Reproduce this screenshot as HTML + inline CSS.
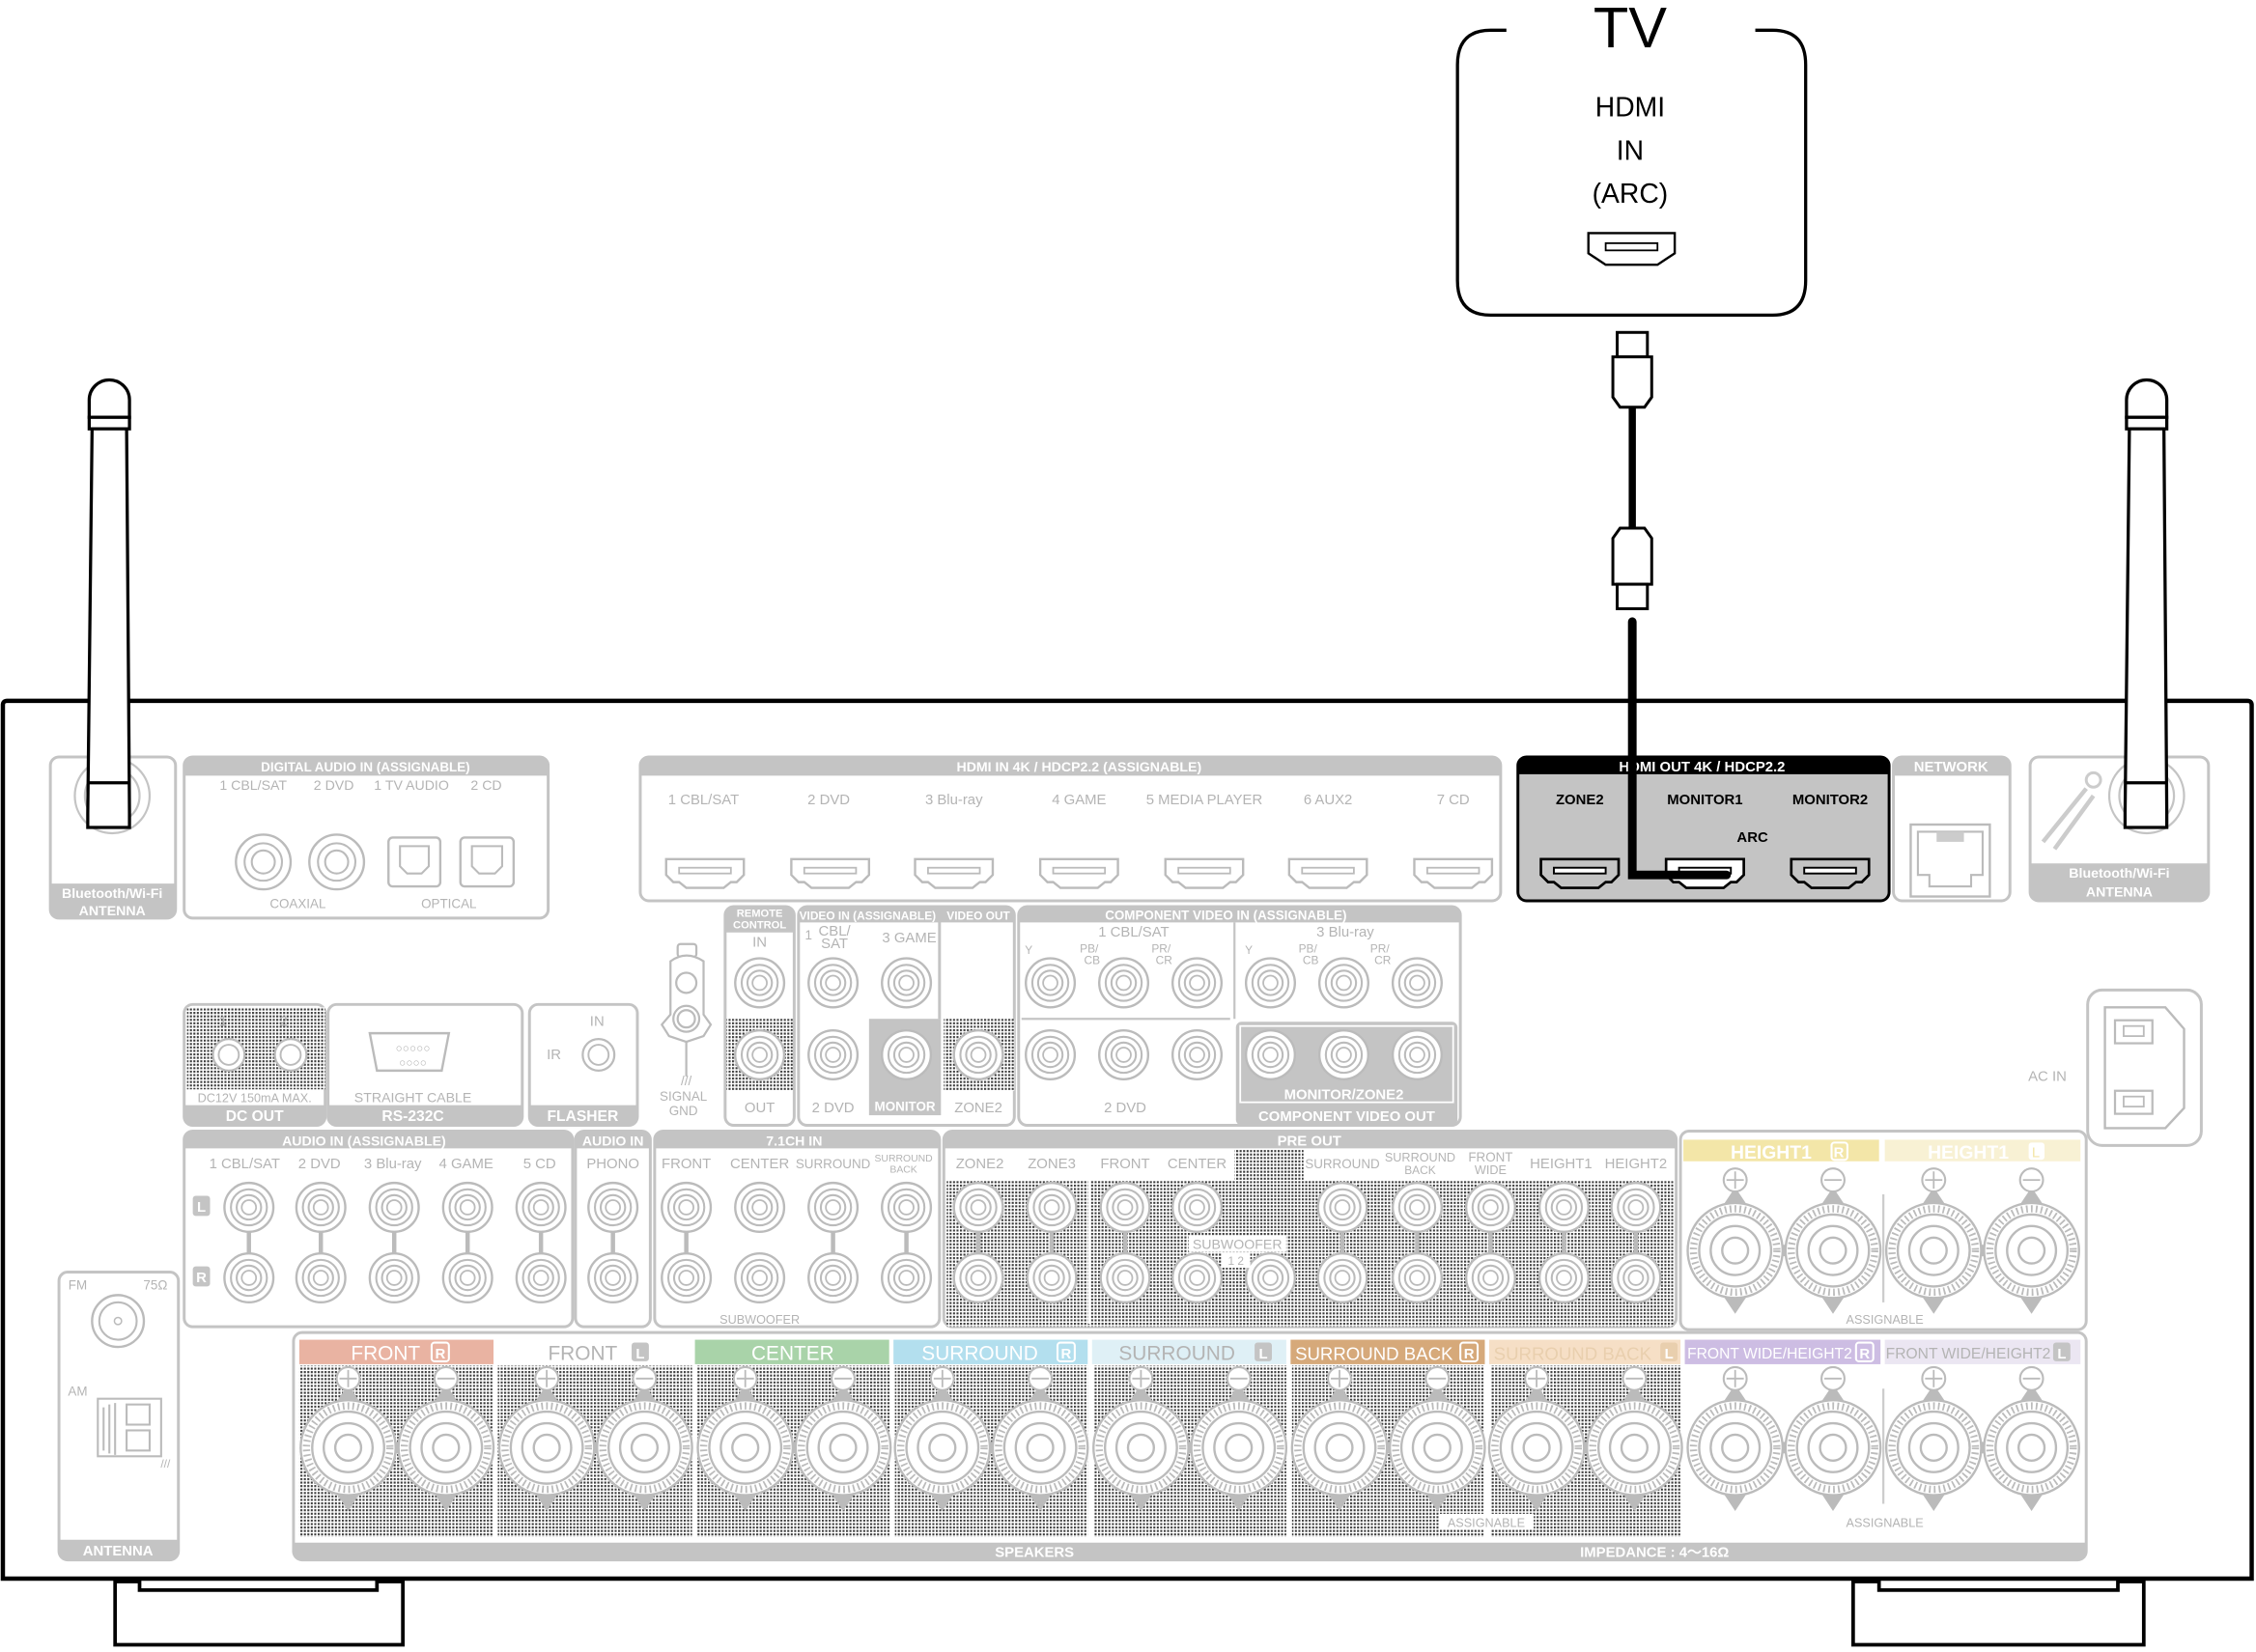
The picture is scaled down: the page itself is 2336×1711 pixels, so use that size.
<!DOCTYPE html>
<html><head><meta charset="utf-8"><style>
html,body{margin:0;padding:0;background:#fff;}
svg{display:block;}
text{font-family:"Liberation Sans",sans-serif;}
.g{fill:#b4b4b4;font-size:10px;text-anchor:middle;}
.h{fill:#fff;font-size:10px;text-anchor:middle;font-weight:bold;}
.b{fill:#000;font-size:10px;text-anchor:middle;font-weight:bold;}
.bx{fill:#fff;stroke:#c4c4c4;stroke-width:2;}
.hd{fill:#c4c4c4;}
</style></head><body>
<svg width="2336" height="1711" viewBox="0 0 1568 1148" preserveAspectRatio="none" xmlns="http://www.w3.org/2000/svg">
<defs>
<pattern id="pt" width="2.4" height="2.4" patternUnits="userSpaceOnUse">
<rect width="2.4" height="2.4" fill="#fff"/><rect width="1.4" height="1.4" fill="#3a3a3a"/>
</pattern>
<g id="rca"><circle r="17" fill="#fff" stroke="#bbb" stroke-width="1.6"/><circle r="12.5" fill="none" stroke="#bbb" stroke-width="1.4"/><circle r="8.5" fill="none" stroke="#bbb" stroke-width="1.4"/><circle r="5" fill="none" stroke="#bbb" stroke-width="1.2"/></g>
<g id="spk">
<path d="M-8,-32 L0,-44 L8,-32 Z M-8,32 L0,44 L8,32 Z" fill="#bbb"/>
<circle r="33" fill="#fff" stroke="#bbb" stroke-width="1.6"/>
<circle r="29" fill="none" stroke="#bbb" stroke-width="5" stroke-dasharray="1.2 2.2"/>
<circle r="25" fill="#fff" stroke="#bbb" stroke-width="1.6"/>
<circle r="17" fill="none" stroke="#bbb" stroke-width="1.6"/>
<circle r="9" fill="none" stroke="#bbb" stroke-width="1.6"/>
</g>
<g id="pp"><circle r="8" fill="#fff" stroke="#bbb" stroke-width="1.4"/><path d="M-6,0 h12 M0,-6 v12" stroke="#bbb" stroke-width="1.2"/></g>
<g id="pn"><circle r="8" fill="#fff" stroke="#bbb" stroke-width="1.4"/><path d="M-6,0 h12" stroke="#bbb" stroke-width="1.2"/></g>
<path id="hdmi" d="M-27,-9 h54 v11 l-5,5 h-4 l-5,4 h-26 l-5,-4 h-4 l-5,-5 Z"/>
</defs>

<!-- TV -->
<path d="M1047,21 H1036 Q1013,21 1013,45 V195 Q1013,219 1036,219 H1232 Q1255,219 1255,195 V45 Q1255,21 1232,21 H1220" fill="none" stroke="#000" stroke-width="2.2"/>
<text x="1133" y="33" style="font-size:40px;text-anchor:middle">TV</text>
<text x="1133" y="81" style="font-size:19px;text-anchor:middle">HDMI</text>
<text x="1133" y="111" style="font-size:19px;text-anchor:middle">IN</text>
<text x="1133" y="141" style="font-size:19px;text-anchor:middle">(ARC)</text>
<path d="M1104,162 h60 v14 l-6,4 l-6,4 h-36 l-6,-4 l-6,-4 Z" fill="#fff" stroke="#000" stroke-width="1.6"/>
<rect x="1116" y="169" width="36" height="5" fill="none" stroke="#000" stroke-width="1.2"/>

<!-- cable -->
<rect x="1124" y="231" width="21" height="17" fill="#fff" stroke="#000" stroke-width="2"/>
<path d="M1121,248 h27 v28 l-5,7 h-17 l-5,-7 Z" fill="#fff" stroke="#000" stroke-width="2"/>
<line x1="1134.5" y1="283" x2="1134.5" y2="367" stroke="#000" stroke-width="5"/>
<path d="M1126,367 h17 l5,7 v32 h-27 v-32 Z" fill="#fff" stroke="#000" stroke-width="2"/>
<rect x="1124" y="406" width="21" height="17" fill="#fff" stroke="#000" stroke-width="2"/>

<!-- chassis -->
<path d="M2,1097 V490 Q2,487 5,487 H1562 Q1565,487 1565,490 V1097 Z" fill="#fff" stroke="#000" stroke-width="3"/>
<path d="M80,1099 V1143 H280 V1099 H262 V1105 H97 V1099 Z" fill="#fff" stroke="#000" stroke-width="2.5"/>
<path d="M1288,1099 V1143 H1490 V1099 H1472 V1105 H1306 V1099 Z" fill="#fff" stroke="#000" stroke-width="2.5"/>

<!-- left bluetooth -->
<rect class="bx" x="35" y="526" width="87" height="112" rx="6"/>
<path class="hd" d="M35,614 H122 V632 Q122,638 116,638 H41 Q35,638 35,632 Z"/>
<circle cx="78" cy="553" r="26" fill="none" stroke="#c4c4c4" stroke-width="1.5"/>
<circle cx="78" cy="553" r="19" fill="none" stroke="#c4c4c4" stroke-width="1.5"/>
<text class="h" x="78" y="624" style="font-size:9.5px">Bluetooth/Wi-Fi</text>
<text class="h" x="78" y="636" style="font-size:9.5px">ANTENNA</text>

<!-- digital audio -->
<rect class="bx" x="128" y="526" width="253" height="112" rx="6"/>
<path class="hd" d="M128,539 V532 Q128,526 134,526 H375 Q381,526 381,532 V539 Z"/>
<text class="h" x="254" y="536" style="font-size:9px">DIGITAL AUDIO IN (ASSIGNABLE)</text>
<g class="g" style="font-size:9.5px"><text x="176" y="549">1 CBL/SAT</text><text x="232" y="549">2 DVD</text><text x="286" y="549">1 TV AUDIO</text><text x="338" y="549">2 CD</text></g>
<circle cx="183" cy="599" r="19" fill="#fff" stroke="#bbb" stroke-width="1.6"/><circle cx="183" cy="599" r="13" fill="none" stroke="#bbb" stroke-width="1.4"/><circle cx="183" cy="599" r="8" fill="none" stroke="#bbb" stroke-width="1.4"/>
<circle cx="234" cy="599" r="19" fill="#fff" stroke="#bbb" stroke-width="1.6"/><circle cx="234" cy="599" r="13" fill="none" stroke="#bbb" stroke-width="1.4"/><circle cx="234" cy="599" r="8" fill="none" stroke="#bbb" stroke-width="1.4"/>
<rect x="270" y="582" width="36" height="34" rx="3" fill="#fff" stroke="#bbb" stroke-width="1.6"/><path d="M278,588 h20 v14 l-5,5 h-10 l-5,-5 Z" fill="none" stroke="#bbb" stroke-width="1.4"/>
<rect x="320" y="582" width="37" height="34" rx="3" fill="#fff" stroke="#bbb" stroke-width="1.6"/><path d="M328,588 h21 v14 l-5,5 h-11 l-5,-5 Z" fill="none" stroke="#bbb" stroke-width="1.4"/>
<text class="g" x="207" y="631" style="font-size:9px">COAXIAL</text>
<text class="g" x="312" y="631" style="font-size:9px">OPTICAL</text>

<!-- HDMI IN -->
<rect class="bx" x="445" y="526" width="598" height="100" rx="6"/>
<path class="hd" d="M445,539 V532 Q445,526 451,526 H1037 Q1043,526 1043,532 V539 Z"/>
<text class="h" x="750" y="536" style="font-size:9.5px">HDMI IN   4K / HDCP2.2   (ASSIGNABLE)</text>
<g class="g" style="font-size:10px">
<text x="489" y="559">1 CBL/SAT</text><text x="576" y="559">2 DVD</text><text x="663" y="559">3 Blu-ray</text><text x="750" y="559">4 GAME</text><text x="837" y="559">5 MEDIA PLAYER</text><text x="923" y="559">6 AUX2</text><text x="1010" y="559">7 CD</text></g>
<g fill="#fff" stroke="#bbb" stroke-width="1.6">
<use href="#hdmi" x="490" y="606"/><use href="#hdmi" x="577" y="606"/><use href="#hdmi" x="663" y="606"/><use href="#hdmi" x="750" y="606"/><use href="#hdmi" x="837" y="606"/><use href="#hdmi" x="923" y="606"/><use href="#hdmi" x="1010" y="606"/></g>
<g fill="none" stroke="#bbb" stroke-width="1.2">
<rect x="472" y="603" width="36" height="4"/><rect x="559" y="603" width="36" height="4"/><rect x="645" y="603" width="36" height="4"/><rect x="732" y="603" width="36" height="4"/><rect x="819" y="603" width="36" height="4"/><rect x="905" y="603" width="36" height="4"/><rect x="992" y="603" width="36" height="4"/></g>

<!-- HDMI OUT -->
<rect x="1055" y="526" width="258" height="100" rx="6" fill="#c4c4c4" stroke="#000" stroke-width="2"/>
<path d="M1055,538 V532 Q1055,526 1061,526 H1307 Q1313,526 1313,532 V538 Z" fill="#000"/>
<text class="h" x="1183" y="536" style="font-size:10px;font-weight:bold">HDMI OUT   4K / HDCP2.2</text>
<text class="b" x="1098" y="559">ZONE2</text><text class="b" x="1185" y="559">MONITOR1</text><text class="b" x="1272" y="559">MONITOR2</text><text class="b" x="1218" y="585">ARC</text>
<g stroke="#000" stroke-width="1.8"><use href="#hdmi" x="1098" y="606" fill="#c4c4c4"/><use href="#hdmi" x="1185" y="606" fill="#fff"/><use href="#hdmi" x="1272" y="606" fill="#c4c4c4"/></g>
<g fill="#fff" stroke="#000" stroke-width="1.3"><rect x="1080" y="603" width="36" height="4"/><rect x="1167" y="603" width="36" height="4"/><rect x="1254" y="603" width="36" height="4"/></g>
<path d="M1134.5,432 V608 H1200" fill="none" stroke="#000" stroke-width="6" stroke-linecap="round"/>

<!-- NETWORK -->
<rect class="bx" x="1316" y="526" width="81" height="100" rx="6"/>
<path class="hd" d="M1316,539 V532 Q1316,526 1322,526 H1391 Q1397,526 1397,532 V539 Z"/>
<text class="h" x="1356" y="536" style="font-size:10px">NETWORK</text>
<rect x="1328" y="573" width="55" height="50" fill="#fff" stroke="#bbb" stroke-width="1.6"/>
<path d="M1333,578 h45 v30 h-8 v8 h-29 v-8 h-8 Z" fill="none" stroke="#bbb" stroke-width="1.4"/>
<rect x="1346" y="578" width="19" height="7" fill="#ccc"/>

<!-- right bluetooth -->
<rect class="bx" x="1411" y="526" width="124" height="100" rx="6"/>
<path class="hd" d="M1411,600 H1535 V620 Q1535,626 1529,626 H1417 Q1411,626 1411,620 Z"/>
<circle cx="1492" cy="553" r="26" fill="none" stroke="#c4c4c4" stroke-width="1.5"/>
<circle cx="1492" cy="553" r="19" fill="none" stroke="#c4c4c4" stroke-width="1.5"/>
<path d="M1420,585 L1450,548 M1428,590 L1455,553" stroke="#ccc" stroke-width="3"/>
<circle cx="1455" cy="542" r="5" fill="none" stroke="#ccc" stroke-width="2"/>
<text class="h" x="1473" y="610" style="font-size:9.5px">Bluetooth/Wi-Fi</text>
<text class="h" x="1473" y="623" style="font-size:9.5px">ANTENNA</text>

<!-- antennas -->
<g fill="#fff" stroke="#000" stroke-width="2.2">
<path d="M62,290 V278 A14,14 0 0 1 90,278 V290 Z"/>
<rect x="62" y="290" width="28" height="8"/>
<path d="M64,298 H88 L90,565 V575 H61 V565 Z"/>
<line x1="61" y1="544" x2="90" y2="544"/>
<path d="M1478,290 V278 A14,14 0 0 1 1506,278 V290 Z"/>
<rect x="1478" y="290" width="28" height="8"/>
<path d="M1480,298 H1504 L1506,565 V575 H1477 V565 Z"/>
<line x1="1477" y1="544" x2="1506" y2="544"/>
</g>

<!-- DC OUT / RS232 / FLASHER -->
<rect class="bx" x="128" y="698" width="98" height="84" rx="6"/>
<rect x="130" y="700" width="96" height="57" fill="url(#pt)"/>
<path class="hd" d="M128,768 H226 V776 Q226,782 220,782 H134 Q128,782 128,776 Z"/>
<text class="g" x="177" y="766" style="font-size:8.5px">DC12V 150mA MAX.</text>
<text class="h" x="177" y="779" style="font-size:10.5px">DC OUT</text>
<circle cx="159" cy="733" r="11" fill="#fff" stroke="#bbb" stroke-width="1.5"/><circle cx="159" cy="733" r="7" fill="none" stroke="#bbb" stroke-width="1.3"/>
<circle cx="202" cy="733" r="11" fill="#fff" stroke="#bbb" stroke-width="1.5"/><circle cx="202" cy="733" r="7" fill="none" stroke="#bbb" stroke-width="1.3"/>
<text class="g" x="155" y="713">1</text><text class="g" x="197" y="713">2</text>
<rect class="bx" x="228" y="698" width="135" height="84" rx="6"/>
<path class="hd" d="M228,768 H363 V776 Q363,782 357,782 H234 Q228,782 228,776 Z"/>
<path d="M257,718 h55 l-5,26 h-45 Z" fill="#fff" stroke="#bbb" stroke-width="1.6"/>
<text class="g" x="287" y="731" style="font-size:8px">○○○○○</text><text class="g" x="287" y="741" style="font-size:8px">○○○○</text>
<text class="g" x="287" y="766" style="font-size:9.5px">STRAIGHT CABLE</text>
<text class="h" x="287" y="779" style="font-size:10.5px">RS-232C</text>
<rect class="bx" x="368" y="698" width="75" height="84" rx="6"/>
<path class="hd" d="M368,768 H443 V776 Q443,782 437,782 H374 Q368,782 368,776 Z"/>
<text class="g" x="415" y="713">IN</text><text class="g" x="385" y="736">IR</text>
<circle cx="416" cy="733" r="11" fill="#fff" stroke="#bbb" stroke-width="1.5"/><circle cx="416" cy="733" r="7" fill="none" stroke="#bbb" stroke-width="1.3"/>
<text class="h" x="405" y="779" style="font-size:10.5px">FLASHER</text>

<!-- signal gnd -->
<g fill="#fff" stroke="#bbb" stroke-width="1.5">
<rect x="471" y="656" width="13" height="9" rx="2"/>
<path d="M466,668 Q477,660 489,668 V705 L494,712 L489,720 L477,724 L465,720 L460,712 L466,705 Z"/>
<circle cx="477" cy="683" r="7"/><circle cx="477" cy="708" r="9"/><circle cx="477" cy="708" r="6"/>
<line x1="477" y1="724" x2="477" y2="748"/></g>
<text class="g" x="477" y="754" style="font-size:9px">///</text>
<text class="g" x="475" y="765" style="font-size:9px">SIGNAL</text><text class="g" x="475" y="775" style="font-size:9px">GND</text>

<!-- remote control -->
<rect class="bx" x="504" y="630" width="48" height="152" rx="6"/>
<path class="hd" d="M504,648 V636 Q504,630 510,630 H546 Q552,630 552,636 V648 Z"/>
<text class="h" x="528" y="637" style="font-size:7.5px">REMOTE</text><text class="h" x="528" y="645" style="font-size:7.5px">CONTROL</text>
<text class="g" x="528" y="658">IN</text>
<rect x="505" y="708" width="46" height="50" fill="url(#pt)"/>
<use href="#rca" x="528" y="683"/><use href="#rca" x="528" y="733"/>
<text class="g" x="528" y="773">OUT</text>

<!-- video in/out -->
<rect class="bx" x="555" y="630" width="150" height="152" rx="6"/>
<path class="hd" d="M555,641 V636 Q555,630 561,630 H699 Q705,630 705,636 V641 Z"/>
<line x1="653" y1="630" x2="653" y2="708" stroke="#c4c4c4" stroke-width="2"/>
<text class="h" x="603" y="639" style="font-size:8px">VIDEO IN (ASSIGNABLE)</text>
<text class="h" x="680" y="639" style="font-size:8px">VIDEO OUT</text>
<text class="g" x="562" y="653" style="font-size:9px">1</text><text class="g" x="580" y="650">CBL/</text><text class="g" x="580" y="659">SAT</text>
<text class="g" x="632" y="655">3 GAME</text>
<rect x="604" y="708" width="50" height="67" fill="#c4c4c4"/>
<rect x="656" y="708" width="49" height="50" fill="url(#pt)"/>
<use href="#rca" x="579" y="683"/><use href="#rca" x="630" y="683"/><use href="#rca" x="579" y="733"/><use href="#rca" x="630" y="733"/><use href="#rca" x="680" y="733"/>
<text class="g" x="579" y="773">2 DVD</text><text class="h" x="629" y="772" style="font-size:9px">MONITOR</text><text class="g" x="680" y="773">ZONE2</text>

<!-- component video -->
<rect class="bx" x="708" y="630" width="307" height="152" rx="6"/>
<path class="hd" d="M708,641 V636 Q708,630 714,630 H1009 Q1015,630 1015,636 V641 Z"/>
<text class="h" x="852" y="639" style="font-size:9px">COMPONENT VIDEO IN (ASSIGNABLE)</text>
<line x1="858" y1="641" x2="858" y2="708" stroke="#c4c4c4" stroke-width="1.5"/>
<line x1="710" y1="708" x2="855" y2="708" stroke="#c4c4c4" stroke-width="1.5"/>
<text class="g" x="788" y="651">1 CBL/SAT</text><text class="g" x="935" y="651">3 Blu-ray</text>
<g class="g" style="font-size:8px"><text x="715" y="663">Y</text><text x="757" y="662">PB/</text><text x="759" y="670">CB</text><text x="807" y="662">PR/</text><text x="809" y="670">CR</text>
<text x="868" y="663">Y</text><text x="909" y="662">PB/</text><text x="911" y="670">CB</text><text x="959" y="662">PR/</text><text x="961" y="670">CR</text></g>
<rect x="859" y="710" width="154" height="72" rx="4" fill="#c4c4c4"/>
<rect x="862" y="713" width="148" height="53" fill="#c4c4c4" stroke="#fff" stroke-width="1.2"/>
<use href="#rca" x="730" y="683"/><use href="#rca" x="781" y="683"/><use href="#rca" x="832" y="683"/><use href="#rca" x="883" y="683"/><use href="#rca" x="934" y="683"/><use href="#rca" x="985" y="683"/>
<use href="#rca" x="730" y="733"/><use href="#rca" x="781" y="733"/><use href="#rca" x="832" y="733"/><use href="#rca" x="883" y="733"/><use href="#rca" x="934" y="733"/><use href="#rca" x="985" y="733"/>
<text class="g" x="782" y="773">2 DVD</text>
<text class="h" x="934" y="764">MONITOR/ZONE2</text>
<text class="h" x="936" y="779">COMPONENT VIDEO OUT</text>

<!-- AC IN -->
<rect x="1451" y="688" width="79" height="108" rx="10" fill="#fff" stroke="#c4c4c4" stroke-width="2"/>
<path d="M1463,700 H1505 L1518,715 V770 L1505,784 H1463 Z" fill="#fff" stroke="#bbb" stroke-width="1.6"/>
<rect x="1470" y="709" width="26" height="16" fill="none" stroke="#bbb" stroke-width="1.5"/><rect x="1476" y="713" width="14" height="7" fill="none" stroke="#bbb" stroke-width="1.2"/>
<rect x="1470" y="758" width="26" height="16" fill="none" stroke="#bbb" stroke-width="1.5"/><rect x="1476" y="762" width="14" height="7" fill="none" stroke="#bbb" stroke-width="1.2"/>
<text class="g" x="1423" y="751">AC IN</text>

<!-- AUDIO IN -->
<rect class="bx" x="128" y="786" width="270" height="136" rx="6"/>
<path class="hd" d="M128,798 V792 Q128,786 134,786 H392 Q398,786 398,792 V798 Z"/>
<text class="h" x="253" y="796" style="font-size:9.5px">AUDIO IN (ASSIGNABLE)</text>
<g class="g" style="font-size:10px"><text x="170" y="812">1 CBL/SAT</text><text x="222" y="812">2 DVD</text><text x="273" y="812">3 Blu-ray</text><text x="324" y="812">4 GAME</text><text x="375" y="812">5 CD</text></g>
<rect x="134" y="831" width="12" height="14" rx="2" fill="#c4c4c4"/><text class="h" x="140" y="842">L</text>
<rect x="134" y="880" width="12" height="14" rx="2" fill="#c4c4c4"/><text class="h" x="140" y="891">R</text>
<rect class="bx" x="400" y="786" width="52" height="136" rx="6"/>
<path class="hd" d="M400,798 V792 Q400,786 406,786 H446 Q452,786 452,792 V798 Z"/>
<text class="h" x="426" y="796" style="font-size:9.5px">AUDIO IN</text>
<text class="g" x="426" y="812">PHONO</text>
<rect class="bx" x="455" y="786" width="198" height="136" rx="6"/>
<path class="hd" d="M455,798 V792 Q455,786 461,786 H647 Q653,786 653,792 V798 Z"/>
<text class="h" x="552" y="796" style="font-size:9.5px">7.1CH IN</text>
<g class="g"><text x="477" y="812">FRONT</text><text x="528" y="812">CENTER</text><text x="579" y="812" style="font-size:9px">SURROUND</text><text x="628" y="807" style="font-size:7px">SURROUND</text><text x="628" y="815" style="font-size:7px">BACK</text></g>
<text class="g" x="528" y="920" style="font-size:8.5px">SUBWOOFER</text>
<g stroke="#bbb" stroke-width="3">
<line x1="173" y1="850" x2="173" y2="880"/><line x1="223" y1="850" x2="223" y2="880"/><line x1="274" y1="850" x2="274" y2="880"/><line x1="325" y1="850" x2="325" y2="880"/><line x1="376" y1="850" x2="376" y2="880"/><line x1="426" y1="850" x2="426" y2="880"/><line x1="477" y1="850" x2="477" y2="880"/><line x1="579" y1="850" x2="579" y2="880"/><line x1="630" y1="850" x2="630" y2="880"/></g>
<use href="#rca" x="173" y="839"/><use href="#rca" x="223" y="839"/><use href="#rca" x="274" y="839"/><use href="#rca" x="325" y="839"/><use href="#rca" x="376" y="839"/><use href="#rca" x="426" y="839"/><use href="#rca" x="477" y="839"/><use href="#rca" x="528" y="839"/><use href="#rca" x="579" y="839"/><use href="#rca" x="630" y="839"/>
<use href="#rca" x="173" y="888"/><use href="#rca" x="223" y="888"/><use href="#rca" x="274" y="888"/><use href="#rca" x="325" y="888"/><use href="#rca" x="376" y="888"/><use href="#rca" x="426" y="888"/><use href="#rca" x="477" y="888"/><use href="#rca" x="528" y="888"/><use href="#rca" x="579" y="888"/><use href="#rca" x="630" y="888"/>

<!-- PRE OUT -->
<rect class="bx" x="656" y="786" width="509" height="136" rx="6"/>
<path class="hd" d="M656,798 V792 Q656,786 662,786 H1159 Q1165,786 1165,792 V798 Z"/>
<text class="h" x="910" y="796" style="font-size:10px">PRE OUT</text>
<rect x="658" y="820" width="505" height="102" fill="url(#pt)"/>
<rect x="858" y="799" width="48" height="21" fill="url(#pt)"/>
<line x1="757" y1="799" x2="757" y2="920" stroke="#fff" stroke-width="1.5"/>
<g class="g"><text x="681" y="812">ZONE2</text><text x="731" y="812">ZONE3</text><text x="782" y="812">FRONT</text><text x="832" y="812">CENTER</text><text x="933" y="812" style="font-size:9px">SURROUND</text><text x="987" y="807" style="font-size:8.5px">SURROUND</text><text x="987" y="816" style="font-size:8px">BACK</text><text x="1036" y="807" style="font-size:9px">FRONT</text><text x="1036" y="816" style="font-size:8.5px">WIDE</text><text x="1085" y="812">HEIGHT1</text><text x="1137" y="812">HEIGHT2</text></g>
<g stroke="#bbb" stroke-width="3"><line x1="680" y1="850" x2="680" y2="880"/><line x1="731" y1="850" x2="731" y2="880"/><line x1="782" y1="850" x2="782" y2="880"/><line x1="933" y1="850" x2="933" y2="880"/><line x1="985" y1="850" x2="985" y2="880"/><line x1="1036" y1="850" x2="1036" y2="880"/><line x1="1087" y1="850" x2="1087" y2="880"/><line x1="1137" y1="850" x2="1137" y2="880"/></g>
<use href="#rca" x="680" y="839"/><use href="#rca" x="731" y="839"/><use href="#rca" x="782" y="839"/><use href="#rca" x="832" y="839"/><use href="#rca" x="933" y="839"/><use href="#rca" x="985" y="839"/><use href="#rca" x="1036" y="839"/><use href="#rca" x="1087" y="839"/><use href="#rca" x="1137" y="839"/>
<use href="#rca" x="680" y="888"/><use href="#rca" x="731" y="888"/><use href="#rca" x="782" y="888"/><use href="#rca" x="832" y="888"/><use href="#rca" x="883" y="888"/><use href="#rca" x="933" y="888"/><use href="#rca" x="985" y="888"/><use href="#rca" x="1036" y="888"/><use href="#rca" x="1087" y="888"/><use href="#rca" x="1137" y="888"/>
<rect x="826" y="859" width="68" height="11" fill="#fff"/>
<text class="g" x="860" y="868" style="font-size:9.5px">SUBWOOFER</text>
<rect x="849" y="871" width="20" height="10" fill="#fff"/>
<text class="g" x="859" y="879" style="font-size:8px">1 2</text>

<!-- HEIGHT panel -->
<rect class="bx" x="1168" y="786" width="282" height="138" rx="6"/>
<rect x="1170" y="792" width="136" height="15" fill="#f3e6a8"/>
<rect x="1310" y="792" width="136" height="15" fill="#f8f1d4"/>
<text class="h" x="1231" y="805" style="font-size:13px">HEIGHT1</text><rect x="1273" y="794" width="11" height="12" rx="2" fill="none" stroke="#fff" stroke-width="1.4"/><text class="h" x="1278" y="804">R</text>
<text class="h" x="1368" y="805" style="font-size:13px">HEIGHT1</text><rect x="1410" y="794" width="11" height="12" rx="2" fill="#fff"/><text x="1415" y="804" style="font-size:10px;text-anchor:middle;fill:#f3e6a8">L</text>
<line x1="1309" y1="830" x2="1309" y2="905" stroke="#ccc" stroke-width="1.5"/>
<rect x="1230" y="865" width="20" height="8" fill="#bbb"/><rect x="1368" y="865" width="20" height="8" fill="#bbb"/>
<use href="#spk" x="1206" y="869"/><use href="#spk" x="1274" y="869"/><use href="#spk" x="1344" y="869"/><use href="#spk" x="1412" y="869"/>
<use href="#pp" x="1206" y="820"/><use href="#pn" x="1274" y="820"/><use href="#pp" x="1344" y="820"/><use href="#pn" x="1412" y="820"/>
<text class="g" x="1310" y="920" style="font-size:8.5px">ASSIGNABLE</text>

<!-- SPEAKERS -->
<rect class="bx" x="204" y="926" width="1246" height="158" rx="6"/>
<path class="hd" d="M204,1072 H1450 V1078 Q1450,1084 1444,1084 H210 Q204,1084 204,1078 Z"/>
<text class="h" x="719" y="1082">SPEAKERS</text>
<text class="h" x="1150" y="1082">IMPEDANCE : 4～16Ω</text>
<rect x="208" y="931" width="135" height="17" fill="#e9b3a2"/>
<rect x="483" y="931" width="135" height="17" fill="#a9d3a9"/>
<rect x="621" y="931" width="135" height="17" fill="#b3dfee"/>
<rect x="759" y="931" width="135" height="17" fill="#dff0f6"/>
<rect x="897" y="931" width="135" height="17" fill="#d6a97a"/>
<rect x="1035" y="931" width="133" height="17" fill="#f6dfc6"/>
<rect x="1171" y="931" width="136" height="17" fill="#cdbde3"/>
<rect x="1310" y="931" width="136" height="17" fill="#ebe6f2"/>
<text class="h" x="268" y="945" style="font-size:14px;font-weight:normal">FRONT</text><text class="g" x="405" y="945" style="font-size:14px">FRONT</text>
<text class="h" x="551" y="945" style="font-size:14px;font-weight:normal">CENTER</text>
<text class="h" x="681" y="945" style="font-size:14px;font-weight:normal">SURROUND</text><text class="g" x="818" y="945" style="font-size:14px">SURROUND</text>
<text class="h" x="955" y="945" style="font-size:12.5px;font-weight:normal">SURROUND BACK</text><text x="1093" y="945" style="font-size:12.5px;text-anchor:middle;fill:#e9cfae">SURROUND BACK</text>
<text class="h" x="1230" y="944" style="font-size:10.5px;font-weight:normal">FRONT WIDE/HEIGHT2</text><text class="g" x="1368" y="944" style="font-size:10.5px">FRONT WIDE/HEIGHT2</text>
<g fill="none" stroke="#fff" stroke-width="1.4"><rect x="300" y="933" width="12" height="13" rx="2"/><rect x="735" y="933" width="12" height="13" rx="2"/><rect x="1015" y="933" width="12" height="13" rx="2"/><rect x="1290" y="933" width="12" height="13" rx="2"/></g>
<g fill="#c4c4c4"><rect x="439" y="933" width="12" height="13" rx="2"/><rect x="872" y="933" width="12" height="13" rx="2"/><rect x="1427" y="933" width="12" height="13" rx="2"/></g>
<rect x="1154" y="933" width="12" height="13" rx="2" fill="#e9cfae"/>
<g class="h" style="font-size:10px"><text x="306" y="944">R</text><text x="741" y="944">R</text><text x="1021" y="944">R</text><text x="1296" y="944">R</text><text x="445" y="944">L</text><text x="878" y="944">L</text><text x="1433" y="944">L</text><text x="1160" y="944">L</text></g>
<g fill="url(#pt)">
<rect x="208" y="949" width="135" height="119"/><rect x="346" y="949" width="135" height="119"/><rect x="484" y="949" width="135" height="119"/><rect x="622" y="949" width="134" height="119"/><rect x="760" y="949" width="134" height="119"/><rect x="898" y="949" width="134" height="119"/><rect x="1036" y="949" width="132" height="119"/></g>
<g fill="#bbb"><rect x="266" y="1002" width="20" height="8"/><rect x="404" y="1002" width="20" height="8"/><rect x="542" y="1002" width="20" height="8"/><rect x="679" y="1002" width="20" height="8"/><rect x="817" y="1002" width="20" height="8"/><rect x="955" y="1002" width="20" height="8"/><rect x="1092" y="1002" width="20" height="8"/><rect x="1230" y="1002" width="20" height="8"/><rect x="1368" y="1002" width="20" height="8"/></g>
<use href="#spk" x="242" y="1006"/><use href="#spk" x="310" y="1006"/><use href="#spk" x="380" y="1006"/><use href="#spk" x="448" y="1006"/><use href="#spk" x="518" y="1006"/><use href="#spk" x="586" y="1006"/><use href="#spk" x="655" y="1006"/><use href="#spk" x="723" y="1006"/><use href="#spk" x="793" y="1006"/><use href="#spk" x="861" y="1006"/><use href="#spk" x="931" y="1006"/><use href="#spk" x="999" y="1006"/><use href="#spk" x="1068" y="1006"/><use href="#spk" x="1136" y="1006"/><use href="#spk" x="1206" y="1006"/><use href="#spk" x="1274" y="1006"/><use href="#spk" x="1344" y="1006"/><use href="#spk" x="1412" y="1006"/>
<use href="#pp" x="242" y="958"/><use href="#pn" x="310" y="958"/><use href="#pp" x="380" y="958"/><use href="#pn" x="448" y="958"/><use href="#pp" x="518" y="958"/><use href="#pn" x="586" y="958"/><use href="#pp" x="655" y="958"/><use href="#pn" x="723" y="958"/><use href="#pp" x="793" y="958"/><use href="#pn" x="861" y="958"/><use href="#pp" x="931" y="958"/><use href="#pn" x="999" y="958"/><use href="#pp" x="1068" y="958"/><use href="#pn" x="1136" y="958"/><use href="#pp" x="1206" y="958"/><use href="#pn" x="1274" y="958"/><use href="#pp" x="1344" y="958"/><use href="#pn" x="1412" y="958"/>
<line x1="1309" y1="965" x2="1309" y2="1045" stroke="#ccc" stroke-width="1.5"/>
<rect x="1000" y="1052" width="66" height="11" fill="#fff"/>
<text class="g" x="1033" y="1061" style="font-size:8.5px">ASSIGNABLE</text>
<text class="g" x="1310" y="1061" style="font-size:8.5px">ASSIGNABLE</text>

<!-- ANTENNA -->
<rect class="bx" x="41" y="884" width="83" height="200" rx="6"/>
<path class="hd" d="M41,1070 H124 V1078 Q124,1084 118,1084 H47 Q41,1084 41,1078 Z"/>
<text class="h" x="82" y="1081">ANTENNA</text>
<text class="g" x="54" y="896" style="font-size:9px">FM</text><text class="g" x="108" y="896" style="font-size:9px">75Ω</text>
<circle cx="82" cy="918" r="18" fill="#fff" stroke="#bbb" stroke-width="1.6"/><circle cx="82" cy="918" r="13" fill="none" stroke="#bbb" stroke-width="1.4"/><circle cx="82" cy="918" r="2.5" fill="none" stroke="#bbb"/>
<text class="g" x="54" y="970" style="font-size:9px">AM</text>
<g fill="#fff" stroke="#bbb" stroke-width="1.4"><rect x="68" y="972" width="44" height="40"/><rect x="88" y="976" width="16" height="14"/><rect x="88" y="994" width="16" height="14"/><path d="M72,978 v30 M76,976 v34 M80,975 v36"/></g>
<text class="g" x="115" y="1020" style="font-size:8px">///</text>
</svg>
</body></html>
